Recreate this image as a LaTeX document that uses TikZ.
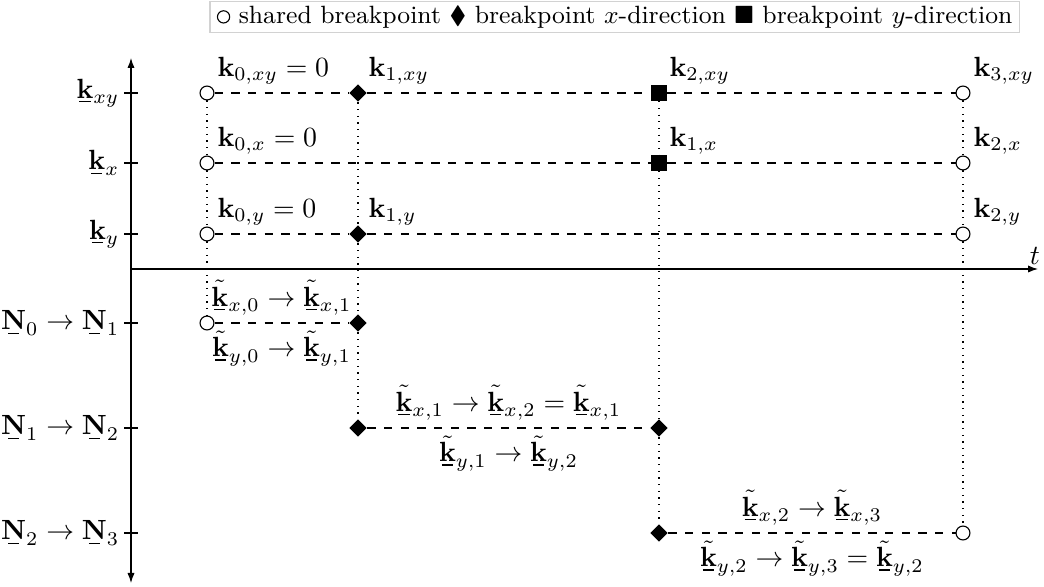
\documentclass[tikz,border=0pt]{standalone}
\usepackage{amsmath,amssymb}
\usetikzlibrary{shapes.geometric,arrows.meta}
\newcommand{\ubar}[1]{\mathord{\vtop{\offinterlineskip\ialign{\hfil##\hfil\crcr$#1$\crcr\noalign{\kern1pt}\rule{0.4em}{0.45pt}\crcr}}}}
\newcommand{\ukk}{\ubar{\mathbf{k}}}
\newcommand{\tkk}{\tilde{\ukk}}
\newcommand{\uNN}{\ubar{\mathbf{N}}}
\newcommand{\lgcirc}{\tikz[baseline=-0.6ex]\draw[line width=0.4pt] (0pt,0pt) circle[radius=2.2pt];}
\tikzset{
  shared/.style={circle, draw, fill=white, minimum size=5pt, inner sep=0pt},
  bpx/.style={diamond, fill=black, minimum size=6.4pt, inner sep=0pt},
  bpy/.style={rectangle, fill=black, minimum size=5.6pt, inner sep=0pt},
  ptlab/.style={anchor=base west, xshift=3.6pt, yshift=6.1pt, inner sep=0pt},
  conn/.style={dashed},
  vconn/.style={dotted},
  axlab/.style={anchor=east, inner sep=1.5pt},
  axis/.style={-{Latex[length=3.6pt,width=2.6pt]}},
  elab/.style={inner sep=2.6pt},
}
\begin{document}
\begin{tikzpicture}[x=0.36pt,y=-0.36pt]
\useasboundingbox (0,0) rectangle (1044,587);

% legend
\node[draw=gray!35, inner xsep=2.5pt, inner ysep=1.6pt, anchor=north east, font=\small] (legend) at (1020,1)
  {\lgcirc\ shared breakpoint $\blacklozenge$ breakpoint $x$-direction $\blacksquare$ breakpoint $y$-direction};

% axes
\coordinate (ytop) at (131,58);
\coordinate (ybot) at (131,583);
\coordinate (orig) at (131,269);
\coordinate (xend) at (1038,269);
\draw[{Latex[length=3.6pt,width=2.6pt]}-{Latex[length=3.6pt,width=2.6pt]}] (ybot) -- (ytop);
\draw[axis] (orig) -- (xend);
\node (tlab) at (1035,256) {$t$};

% ticks and axis labels
\foreach \r/\yy/\lab in {1/93/{$\ukk_{xy}$}, 2/163/{$\ukk_{x}$}, 3/234/{$\ukk_{y}$},
   4/323/{$\uNN_0 \to \uNN_1$}, 5/428/{$\uNN_1 \to \uNN_2$}, 6/533/{$\uNN_2 \to \uNN_3$}}{
  \coordinate (tk\r) at (131,\yy);
  \draw ([xshift=-2.5pt]tk\r) -- ([xshift=2.5pt]tk\r);
  \node[axlab] (al\r) at ([xshift=-2.5pt]tk\r) {\lab};
}

% markers
\node[shared] (c0xy) at (207,93) {};
\node[bpx]    (d1xy) at (358,93) {};
\node[bpy]    (s2xy) at (659,93) {};
\node[shared] (c3xy) at (963,93) {};

\node[shared] (c0x) at (207,163) {};
\node[bpy]    (s1x) at (659,163) {};
\node[shared] (c2x) at (963,163) {};

\node[shared] (c0y) at (207,234) {};
\node[bpx]    (d1y) at (358,234) {};
\node[shared] (c2y) at (963,234) {};

\node[shared] (c0n) at (207,323) {};
\node[bpx]    (d1n) at (358,323) {};
\node[bpx]    (d1m) at (358,428) {};
\node[bpx]    (d2m) at (659,428) {};
\node[bpx]    (d2p) at (659,533) {};
\node[shared] (c3p) at (963,533) {};

% point labels
\node[ptlab] (l0xy) at (c0xy) {$\mathbf{k}_{0,xy} = 0$};
\node[ptlab] (l1xy) at (d1xy) {$\mathbf{k}_{1,xy}$};
\node[ptlab] (l2xy) at (s2xy) {$\mathbf{k}_{2,xy}$};
\node[ptlab] (l3xy) at (c3xy) {$\mathbf{k}_{3,xy}$};
\node[ptlab] (l0x) at (c0x) {$\mathbf{k}_{0,x} = 0$};
\node[ptlab] (l1x) at (s1x) {$\mathbf{k}_{1,x}$};
\node[ptlab] (l2x) at (c2x) {$\mathbf{k}_{2,x}$};
\node[ptlab] (l0y) at (c0y) {$\mathbf{k}_{0,y} = 0$};
\node[ptlab] (l1y) at (d1y) {$\mathbf{k}_{1,y}$};
\node[ptlab] (l2y) at (c2y) {$\mathbf{k}_{2,y}$};

% dotted verticals
\draw[vconn] (c0xy) -- (c0x) -- (c0y) -- (c0n);
\draw[vconn] (d1xy) -- (d1y) -- (d1n) -- (d1m);
\draw[vconn] (s2xy) -- (s1x) -- (d2m) -- (d2p);
\draw[vconn] (c3xy) -- (c2x) -- (c2y) -- (c3p);

% dashed horizontals
\draw[conn] (c0xy) -- (d1xy) -- (s2xy) -- (c3xy);
\draw[conn] (c0x) -- (s1x) -- (c2x);
\draw[conn] (c0y) -- (d1y) -- (c2y);
\draw[conn] (c0n) -- (d1n)
  node[midway, above, elab] (e1a) {$\tkk_{x,0} \to \tkk_{x,1}$}
  node[midway, below, elab] (e1b) {$\tkk_{y,0} \to \tkk_{y,1}$};
\draw[conn] (d1m) -- (d2m)
  node[midway, above, elab] (e2a) {$\tkk_{x,1} \to \tkk_{x,2} = \tkk_{x,1}$}
  node[midway, below, elab] (e2b) {$\tkk_{y,1} \to \tkk_{y,2}$};
\draw[conn] (d2p) -- (c3p)
  node[midway, above, elab] (e3a) {$\tkk_{x,2} \to \tkk_{x,3}$}
  node[midway, below, elab] (e3b) {$\tkk_{y,2} \to \tkk_{y,3} = \tkk_{y,2}$};
\end{tikzpicture}
\end{document}
